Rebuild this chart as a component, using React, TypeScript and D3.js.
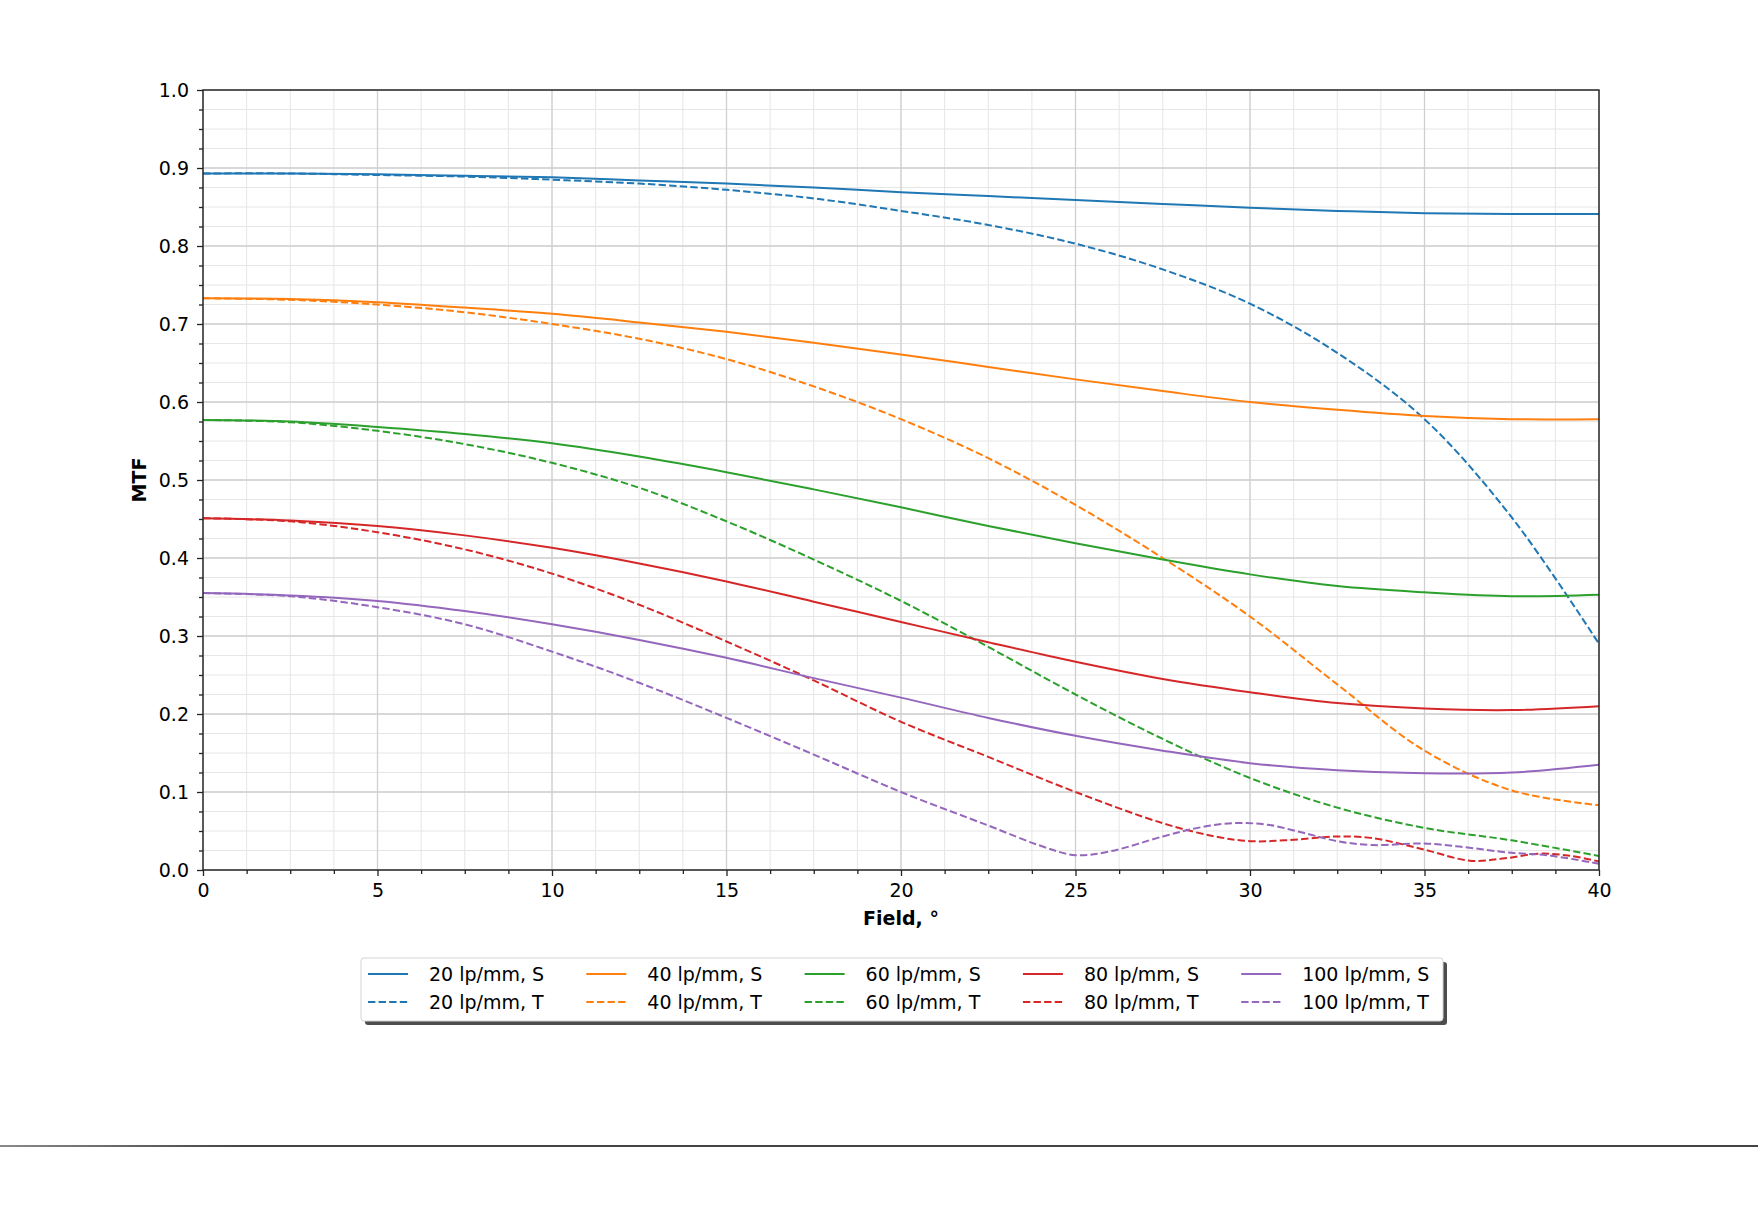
import React, { useRef, useEffect } from 'react';
import * as d3 from 'd3';

// Field positions (degrees) and MTF readings per curve
const fieldS = [0, 2.5, 5, 7.5, 10, 12.5, 15, 17.5, 20, 22.5, 25, 27.5, 30, 32.5, 35, 37.5, 40];

const mtf20S = [0.893, 0.893, 0.892, 0.890, 0.888, 0.884, 0.880, 0.875, 0.869, 0.864, 0.859, 0.854, 0.849, 0.845, 0.842, 0.841, 0.841];
const mtf40S = [0.733, 0.732, 0.728, 0.721, 0.713, 0.702, 0.690, 0.676, 0.661, 0.645, 0.629, 0.614, 0.600, 0.590, 0.582, 0.578, 0.578];
const mtf60S = [0.577, 0.575, 0.568, 0.559, 0.547, 0.530, 0.510, 0.488, 0.465, 0.441, 0.419, 0.398, 0.379, 0.364, 0.356, 0.351, 0.353];
const mtf80S = [0.451, 0.448, 0.441, 0.429, 0.413, 0.393, 0.370, 0.344, 0.318, 0.292, 0.267, 0.245, 0.228, 0.214, 0.207, 0.205, 0.210];
const mtf100S = [0.355, 0.352, 0.345, 0.332, 0.315, 0.295, 0.272, 0.246, 0.221, 0.195, 0.172, 0.153, 0.137, 0.128, 0.124, 0.125, 0.135];

const field20T = [0, 2.5, 5, 7.5, 10, 12.5, 15, 17.5, 20, 22.5, 25, 27.5, 30, 32.5, 35, 37.5, 40];
const mtf20T = [0.893, 0.893, 0.891, 0.889, 0.885, 0.880, 0.872, 0.861, 0.845, 0.827, 0.803, 0.770, 0.726, 0.663, 0.578, 0.452, 0.290];

const field40T = [0, 2.5, 5, 7.5, 10, 12.5, 15, 17.5, 20, 22.5, 25, 27.5, 30, 32.5, 35, 37.5, 40];
const mtf40T = [0.733, 0.731, 0.725, 0.715, 0.700, 0.681, 0.655, 0.620, 0.578, 0.528, 0.468, 0.400, 0.325, 0.238, 0.153, 0.102, 0.083];

const field60T = [0, 2.5, 5, 7.5, 10, 12.5, 15, 17.5, 20, 22.5, 25, 27.5, 30, 32.5, 35, 37.5, 40];
const mtf60T = [0.577, 0.574, 0.563, 0.546, 0.522, 0.490, 0.447, 0.398, 0.345, 0.286, 0.225, 0.168, 0.118, 0.080, 0.054, 0.038, 0.018];

const field80T = [0, 2.5, 5, 7.5, 10, 12.5, 15, 17.5, 20, 22.5, 25, 27.5, 29, 30, 31, 32.5, 33.5, 35, 36.3, 37.3, 38.3, 39.2, 40];
const mtf80T = [0.451, 0.447, 0.433, 0.411, 0.380, 0.340, 0.293, 0.243, 0.190, 0.145, 0.100, 0.060, 0.043, 0.037, 0.038, 0.043, 0.041, 0.026, 0.012, 0.015, 0.021, 0.018, 0.011];

const field100T = [0, 2.5, 5, 7.5, 10, 12.5, 15, 17.5, 20, 22.5, 24, 25, 26, 27.5, 28.5, 29.5, 30.5, 31.5, 32.5, 33.5, 35, 36, 37.5, 38.5, 40];
const mtf100T = [0.355, 0.351, 0.337, 0.315, 0.280, 0.240, 0.195, 0.148, 0.100, 0.057, 0.031, 0.019, 0.024, 0.043, 0.054, 0.060, 0.058, 0.048, 0.037, 0.032, 0.034, 0.030, 0.022, 0.019, 0.008];

const colors = ['#1f77b4', '#ff7f0e', '#2ca02c', '#d62728', '#9467bd'];
const freqLabels = ['20 lp/mm', '40 lp/mm', '60 lp/mm', '80 lp/mm', '100 lp/mm'];

const xTicks = [0, 5, 10, 15, 20, 25, 30, 35, 40];
const yTicks = [0, 0.1, 0.2, 0.3, 0.4, 0.5, 0.6, 0.7, 0.8, 0.9, 1.0];

const W = 1758;
const H = 1229;
const FONT = 'DejaVu Sans, sans-serif';

const App = () => {
  const ref = useRef(null);

  useEffect(() => {
    const root = d3.select(ref.current);
    root.selectAll('*').remove();

    const svg = root.append('svg').attr('width', W).attr('height', H).style('display', 'block');
    svg.append('rect').attr('width', W).attr('height', H).attr('fill', '#fff');

    const left = 203, right = 1599, top = 90, bottom = 870;
    const x = d3.scaleLinear().domain([0, 40]).range([left, right]);
    const y = d3.scaleLinear().domain([0, 1]).range([bottom, top]);

    const defs = svg.append('defs');
    defs.append('clipPath').attr('id', 'plotclip')
      .append('rect').attr('x', left).attr('y', top).attr('width', right - left).attr('height', bottom - top);
    const grad = defs.append('linearGradient').attr('id', 'sepgrad').attr('x1', '0').attr('x2', '1');
    grad.append('stop').attr('offset', '0').attr('stop-color', '#8a8a8a');
    grad.append('stop').attr('offset', '0.14').attr('stop-color', '#444');
    grad.append('stop').attr('offset', '1').attr('stop-color', '#444');

    // grid
    const xMinor = d3.range(0, 40.001, 1.25);
    const yMinor = d3.range(0, 1.0001, 0.025);
    const grid = svg.append('g');
    grid.selectAll('.xm').data(xMinor).enter().append('line')
      .attr('x1', d => x(d)).attr('x2', d => x(d)).attr('y1', top).attr('y2', bottom)
      .attr('stroke', '#e6e6e6').attr('stroke-width', 1);
    grid.selectAll('.ym').data(yMinor).enter().append('line')
      .attr('y1', d => y(d)).attr('y2', d => y(d)).attr('x1', left).attr('x2', right)
      .attr('stroke', '#e6e6e6').attr('stroke-width', 1);
    grid.selectAll('.xM').data(xTicks).enter().append('line')
      .attr('x1', d => x(d)).attr('x2', d => x(d)).attr('y1', top).attr('y2', bottom)
      .attr('stroke', '#cfcfcf').attr('stroke-width', 1.3);
    grid.selectAll('.yM').data(yTicks).enter().append('line')
      .attr('y1', d => y(d)).attr('y2', d => y(d)).attr('x1', left).attr('x2', right)
      .attr('stroke', '#cfcfcf').attr('stroke-width', 1.3);

    // curves
    const series = [
      { xs: fieldS, ys: mtf20S, c: 0, dashed: false },
      { xs: field20T, ys: mtf20T, c: 0, dashed: true },
      { xs: fieldS, ys: mtf40S, c: 1, dashed: false },
      { xs: field40T, ys: mtf40T, c: 1, dashed: true },
      { xs: fieldS, ys: mtf60S, c: 2, dashed: false },
      { xs: field60T, ys: mtf60T, c: 2, dashed: true },
      { xs: fieldS, ys: mtf80S, c: 3, dashed: false },
      { xs: field80T, ys: mtf80T, c: 3, dashed: true },
      { xs: fieldS, ys: mtf100S, c: 4, dashed: false },
      { xs: field100T, ys: mtf100T, c: 4, dashed: true },
    ];
    const line = d3.line<number>()
      .x(d => x(d[0]))
      .y(d => y(d[1]))
      .curve(d3.curveCatmullRom.alpha(0.5));
    const plot = svg.append('g').attr('clip-path', 'url(#plotclip)');
    series.forEach(s => {
      plot.append('path')
        .attr('d', line(s.xs.map((v, i) => [v, s.ys[i]])))
        .attr('fill', 'none')
        .attr('stroke', colors[s.c])
        .attr('stroke-width', 2)
        .attr('stroke-dasharray', s.dashed ? '7.4,3.2' : null);
    });

    // axes
    const xAxis = svg.append('g').attr('transform', `translate(0,${bottom})`)
      .call(d3.axisBottom(x).tickValues(xTicks).tickFormat(d3.format('d')).tickSize(6).tickPadding(8));
    const xAxisMinor = svg.append('g').attr('transform', `translate(0,${bottom})`)
      .call(d3.axisBottom(x).tickValues(xMinor.filter(v => v % 5 !== 0)).tickFormat(() => '').tickSize(4));
    const yAxis = svg.append('g').attr('transform', `translate(${left},0)`)
      .call(d3.axisLeft(y).tickValues(yTicks).tickFormat(d3.format('.1f')).tickSize(6).tickPadding(8));
    const yAxisMinor = svg.append('g').attr('transform', `translate(${left},0)`)
      .call(d3.axisLeft(y).tickValues(yMinor.filter((v, i) => i % 4 !== 0)).tickFormat(() => '').tickSize(4));
    [xAxis, xAxisMinor, yAxis, yAxisMinor].forEach(a => {
      a.select('.domain').remove();
      a.selectAll('line').attr('stroke', '#222').attr('stroke-width', 1.3);
      a.selectAll('text').attr('font-family', FONT).attr('font-size', 19).attr('fill', '#000');
    });

    // spines
    svg.append('rect').attr('x', left).attr('y', top).attr('width', right - left).attr('height', bottom - top)
      .attr('fill', 'none').attr('stroke', '#222').attr('stroke-width', 1.4);

    // axis labels
    svg.append('text').attr('x', (left + right) / 2).attr('y', 925)
      .attr('text-anchor', 'middle').attr('font-family', FONT).attr('font-size', 19).attr('font-weight', 'bold')
      .text('Field, °');
    svg.append('text').attr('transform', `translate(146,${(top + bottom) / 2}) rotate(-90)`)
      .attr('text-anchor', 'middle').attr('font-family', FONT).attr('font-size', 19).attr('font-weight', 'bold')
      .text('MTF');

    // legend
    const lx = 361, ly = 958, lw = 1082, lh = 63;
    svg.append('rect').attr('x', lx + 4).attr('y', ly + 4).attr('width', lw).attr('height', lh)
      .attr('rx', 3).attr('fill', '#4d4d4d');
    svg.append('rect').attr('x', lx).attr('y', ly).attr('width', lw).attr('height', lh)
      .attr('rx', 3).attr('fill', '#fff').attr('stroke', '#d4d4d4').attr('stroke-width', 1);
    const colX = d3.scaleLinear().domain([0, 1]).range([368, 368 + 218.3]);
    const rows = [{ suffix: 'S', dashed: false, cy: 974 }, { suffix: 'T', dashed: true, cy: 1002 }];
    freqLabels.forEach((lab, i) => {
      rows.forEach(r => {
        const hx = colX(i);
        svg.append('line').attr('x1', hx).attr('x2', hx + 40).attr('y1', r.cy).attr('y2', r.cy)
          .attr('stroke', colors[i]).attr('stroke-width', 2)
          .attr('stroke-dasharray', r.dashed ? '7.4,3.2' : null);
        svg.append('text').attr('x', hx + 61).attr('y', r.cy + 7)
          .attr('font-family', FONT).attr('font-size', 19).attr('fill', '#000')
          .text(`${lab}, ${r.suffix}`);
      });
    });

    // page separator
    svg.append('rect').attr('x', 0).attr('y', 1145).attr('width', W).attr('height', 2).attr('fill', 'url(#sepgrad)');

    return () => {
      d3.select(ref.current).selectAll('*').remove();
    };
  }, []);

  return <div ref={ref} style={{ position: 'absolute', left: 0, top: 0, width: W, height: H }} />;
};

export default App;
